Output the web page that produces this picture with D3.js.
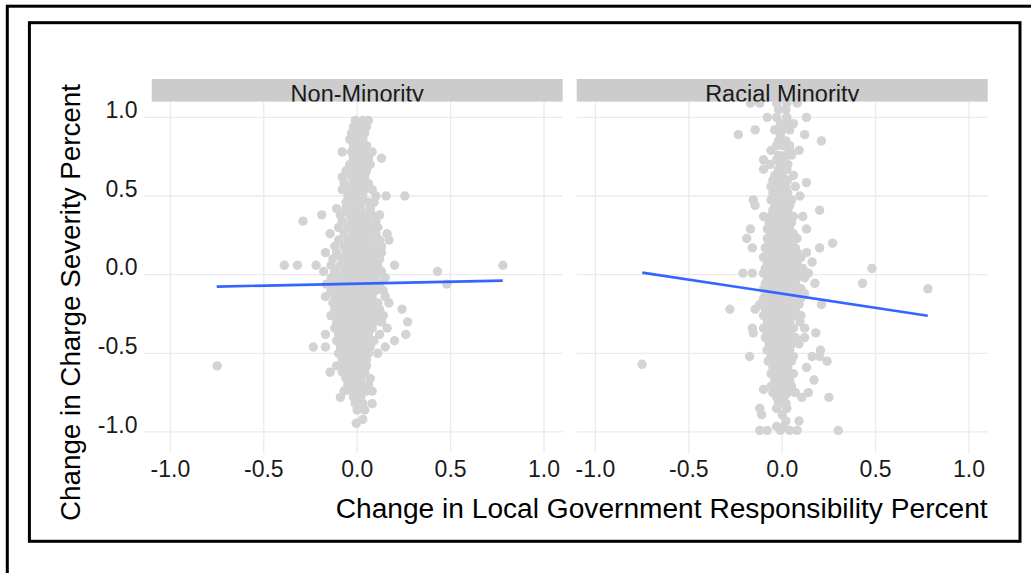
<!DOCTYPE html>
<html>
<head>
<meta charset="utf-8">
<script src="https://cdn.jsdelivr.net/npm/d3@7/dist/d3.min.js"></script>
<style>
  html, body { margin: 0; padding: 0; background: #ffffff; }
  svg { display: block; }
  text { font-family: "Liberation Sans", Arial, sans-serif; }
</style>
</head>
<body>
<script>
// ---------------- DATA ----------------
const panels = ["Non-Minority", "Racial Minority"];
const tickValues = [-1.0, -0.5, 0.0, 0.5, 1.0];
const tickLabels = ["-1.0", "-0.5", "0.0", "0.5", "1.0"];
const xTitle = "Change in Local Government Responsibility Percent";
const yTitle = "Change in Charge Severity Percent";

// Points, as rows: [y, [x values at that y]]
const nonMinorityRows = [
  [0.98, [-0.01, 0.03, 0.06]],
  [0.94, [-0.02, 0.02, 0.05]],
  [0.90, [-0.03, 0.01, 0.04]],
  [0.86, [-0.04, 0.0, 0.03]],
  [0.82, [-0.02, 0.02, 0.05]],
  [0.78, [-0.08, -0.03, 0.01, 0.04, 0.08]],
  [0.74, [-0.02, 0.02, 0.06, 0.13]],
  [0.70, [-0.04, 0.0, 0.03, 0.07]],
  [0.66, [-0.06, -0.02, 0.02, 0.05]],
  [0.62, [-0.08, -0.03, 0.01, 0.04]],
  [0.58, [-0.07, -0.02, 0.02, 0.06]],
  [0.54, [-0.08, -0.04, 0.0, 0.04, 0.08]],
  [0.50, [-0.05, -0.01, 0.03, 0.10, 0.155, 0.255]],
  [0.46, [-0.06, -0.02, 0.02, 0.06, 0.09]],
  [0.42, [-0.11, -0.06, -0.02, 0.02, 0.07]],
  [0.38, [-0.19, -0.09, -0.04, 0.0, 0.04, 0.08, 0.12]],
  [0.34, [-0.29, -0.08, -0.03, 0.01, 0.05, 0.10]],
  [0.30, [-0.10, -0.05, -0.01, 0.03, 0.07, 0.11]],
  [0.26, [-0.145, -0.07, -0.02, 0.02, 0.06, 0.10, 0.16]],
  [0.22, [-0.10, -0.05, -0.01, 0.03, 0.07, 0.12, 0.17]],
  [0.18, [-0.12, -0.07, -0.03, 0.01, 0.05, 0.09, 0.13]],
  [0.14, [-0.17, -0.11, -0.06, -0.02, 0.02, 0.06, 0.10, 0.13]],
  [0.10, [-0.13, -0.08, -0.04, 0.0, 0.04, 0.08, 0.12]],
  [0.06, [-0.39, -0.32, -0.22, -0.14, -0.09, -0.05, -0.01, 0.03, 0.07, 0.11, 0.20, 0.78]],
  [0.02, [-0.18, -0.12, -0.07, -0.03, 0.01, 0.05, 0.09, 0.13, 0.43]],
  [-0.02, [-0.14, -0.10, -0.06, -0.02, 0.02, 0.06, 0.10, 0.15]],
  [-0.06, [-0.165, -0.12, -0.08, -0.04, 0.0, 0.04, 0.08, 0.12, 0.48]],
  [-0.10, [-0.14, -0.10, -0.06, -0.02, 0.02, 0.06, 0.10, 0.14]],
  [-0.14, [-0.17, -0.12, -0.08, -0.04, 0.0, 0.04, 0.08, 0.15]],
  [-0.18, [-0.13, -0.09, -0.05, -0.01, 0.03, 0.07, 0.11, 0.17]],
  [-0.22, [-0.12, -0.08, -0.04, 0.0, 0.04, 0.08, 0.12, 0.24]],
  [-0.26, [-0.14, -0.10, -0.06, -0.02, 0.02, 0.06, 0.10, 0.14]],
  [-0.30, [-0.11, -0.07, -0.03, 0.01, 0.05, 0.09, 0.13, 0.27]],
  [-0.34, [-0.12, -0.08, -0.04, 0.0, 0.04, 0.08, 0.16]],
  [-0.38, [-0.17, -0.10, -0.06, -0.02, 0.02, 0.06, 0.12, 0.26]],
  [-0.42, [-0.11, -0.07, -0.03, 0.01, 0.05, 0.09, 0.20]],
  [-0.46, [-0.235, -0.17, -0.09, -0.05, -0.01, 0.03, 0.07, 0.15]],
  [-0.50, [-0.10, -0.06, -0.02, 0.02, 0.06, 0.11]],
  [-0.54, [-0.08, -0.04, 0.0, 0.04, 0.05]],
  [-0.58, [-0.75, -0.11, -0.07, -0.03, 0.01, 0.05]],
  [-0.62, [-0.145, -0.08, -0.04, 0.0, 0.04]],
  [-0.66, [-0.06, -0.02, 0.02, 0.07]],
  [-0.70, [-0.05, -0.01, 0.03, 0.06]],
  [-0.74, [-0.07, -0.03, 0.01, 0.05, 0.08]],
  [-0.78, [-0.09, -0.02, 0.02]],
  [-0.82, [-0.01, 0.03, 0.08]],
  [-0.86, [0.0, 0.04]],
  [-0.92, [0.03]],
  [-0.945, [-0.005]]
];

const racialMinorityRows = [
  [1.09, [-0.17, -0.12, -0.03, 0.025, 0.08]],
  [1.05, [-0.02, 0.02]],
  [1.00, [-0.08, -0.03, 0.025, 0.13]],
  [0.96, [-0.01, 0.03, 0.06]],
  [0.92, [-0.145, -0.04, 0.0, 0.04]],
  [0.89, [-0.235, -0.01, 0.12]],
  [0.85, [-0.02, 0.02, 0.21]],
  [0.82, [-0.03, 0.005, 0.04]],
  [0.79, [-0.06, 0.04, 0.09]],
  [0.76, [-0.02, 0.02, 0.05]],
  [0.73, [-0.10, -0.03, 0.01]],
  [0.70, [-0.065, -0.01, 0.03]],
  [0.67, [-0.10, -0.02, 0.025]],
  [0.63, [-0.04, 0.0, 0.06]],
  [0.60, [-0.05, -0.01, 0.03]],
  [0.585, [0.13]],
  [0.56, [-0.06, -0.02, 0.02, 0.07]],
  [0.52, [-0.05, -0.01, 0.03]],
  [0.50, [0.095]],
  [0.475, [-0.155, -0.06, -0.02, 0.02, 0.05]],
  [0.44, [-0.145, -0.04, 0.0, 0.04]],
  [0.41, [-0.05, -0.01, 0.03, 0.20]],
  [0.37, [-0.10, -0.06, -0.02, 0.02, 0.06, 0.11]],
  [0.33, [-0.07, -0.03, 0.01, 0.05]],
  [0.29, [-0.17, -0.08, -0.04, 0.0, 0.04, 0.13]],
  [0.26, [-0.06, -0.02, 0.02, 0.06]],
  [0.23, [-0.19, -0.08, -0.04, 0.0, 0.04, 0.08]],
  [0.20, [-0.07, -0.03, 0.01, 0.05, 0.27]],
  [0.17, [-0.16, -0.09, -0.05, -0.01, 0.03, 0.07, 0.20]],
  [0.14, [-0.08, -0.04, 0.0, 0.04, 0.08, 0.13]],
  [0.11, [-0.10, -0.06, -0.02, 0.02, 0.06, 0.10]],
  [0.08, [-0.08, -0.04, 0.0, 0.04, 0.08, 0.16]],
  [0.04, [-0.09, -0.05, -0.01, 0.03, 0.07, 0.11, 0.48]],
  [0.01, [-0.21, -0.16, -0.10, -0.06, -0.02, 0.02, 0.06, 0.10, 0.14]],
  [-0.02, [-0.08, -0.04, 0.0, 0.04, 0.08, 0.12]],
  [-0.055, [-0.09, -0.05, -0.01, 0.03, 0.07, 0.175, 0.43]],
  [-0.09, [-0.10, -0.06, -0.02, 0.02, 0.06, 0.10, 0.78]],
  [-0.12, [-0.08, -0.04, 0.0, 0.04, 0.08, 0.12]],
  [-0.15, [-0.10, -0.06, -0.02, 0.02, 0.06, 0.10]],
  [-0.19, [-0.12, -0.07, -0.03, 0.01, 0.05, 0.09, 0.21]],
  [-0.22, [-0.28, -0.145, -0.09, -0.05, -0.01, 0.03, 0.07]],
  [-0.26, [-0.10, -0.06, -0.02, 0.02, 0.06, 0.10]],
  [-0.30, [-0.08, -0.04, 0.0, 0.04, 0.095]],
  [-0.34, [-0.16, -0.10, -0.06, -0.02, 0.02, 0.06, 0.12]],
  [-0.37, [-0.155, -0.08, -0.04, 0.0, 0.04, 0.18]],
  [-0.40, [-0.09, -0.05, -0.01, 0.03, 0.07, 0.12]],
  [-0.44, [-0.07, -0.03, 0.01, 0.05, 0.09]],
  [-0.48, [-0.08, -0.04, 0.0, 0.04, 0.205]],
  [-0.52, [-0.175, -0.06, -0.02, 0.02, 0.06, 0.16, 0.20]],
  [-0.55, [-0.075, -0.03, 0.01, 0.05, 0.24]],
  [-0.57, [-0.75]],
  [-0.59, [-0.05, -0.01, 0.03, 0.13]],
  [-0.63, [-0.06, -0.02, 0.02, 0.06]],
  [-0.67, [-0.04, 0.0, 0.04, 0.17]],
  [-0.71, [-0.06, -0.02, 0.02, 0.05]],
  [-0.73, [-0.10]],
  [-0.75, [-0.05, -0.01, 0.03, 0.07, 0.14]],
  [-0.78, [-0.03, 0.01, 0.105, 0.25]],
  [-0.82, [-0.02, 0.02]],
  [-0.85, [-0.12, -0.03, 0.025]],
  [-0.89, [-0.11, 0.0]],
  [-0.93, [0.02, 0.09]],
  [-0.965, [-0.03, 0.01]],
  [-0.99, [-0.12, -0.08, -0.01, 0.04, 0.08, 0.30]]
];

// Fitted lines (endpoints)
const nonMinorityFit = [[-0.752, -0.076], [0.779, -0.038]];
const racialMinorityFit = [[-0.749, 0.013], [0.779, -0.261]];

// ---------------- DRAW ----------------
const W = 1031, H = 573;
const svg = d3.select("body").append("svg").attr("width", W).attr("height", H);
svg.append("rect").attr("width", W).attr("height", H).attr("fill", "#fff");

const panelX = [[151.7, 562.7], [576.7, 987.7]];
const panelTop = 101.6, panelBottom = 447.7, stripTop = 79;
const y = d3.scaleLinear().domain([-1.1, 1.1]).range([panelBottom, panelTop]);

const rowsByPanel = [nonMinorityRows, racialMinorityRows];
const fitByPanel = [nonMinorityFit, racialMinorityFit];
const gridColor = "#ebebeb";

const defs = svg.append("defs");

panels.forEach((name, i) => {
  const [x0, x1] = panelX[i];
  const x = d3.scaleLinear().domain([-1.1, 1.1]).range([x0, x1]);
  const g = svg.append("g");

  // gridlines
  g.selectAll(".gy").data(tickValues).join("line")
    .attr("x1", i === 0 ? x0 - 7.4 : x0).attr("x2", x1)
    .attr("y1", d => y(d)).attr("y2", d => y(d))
    .attr("stroke", gridColor).attr("stroke-width", 1.3);
  g.selectAll(".gx").data(tickValues).join("line")
    .attr("x1", d => x(d)).attr("x2", d => x(d))
    .attr("y1", panelTop).attr("y2", panelBottom + 5.5)
    .attr("stroke", gridColor).attr("stroke-width", 1.3);

  // points
  const pts = rowsByPanel[i].flatMap(([yy, xs]) => xs.map(xx => [xx, yy]));
  defs.append("clipPath").attr("id", "pc" + i).append("rect")
    .attr("x", x0).attr("y", panelTop).attr("width", x1 - x0).attr("height", panelBottom - panelTop);
  g.append("g").attr("clip-path", `url(#pc${i})`)
    .selectAll("circle").data(pts).join("circle")
    .attr("cx", d => x(d[0])).attr("cy", d => y(d[1])).attr("r", 4.7)
    .attr("fill", "#d3d3d3");

  // fit line
  g.append("path").datum(fitByPanel[i])
    .attr("d", d3.line().x(d => x(d[0])).y(d => y(d[1])))
    .attr("fill", "none").attr("stroke", "#3366FF").attr("stroke-width", 2.6);

  // strip
  defs.append("clipPath").attr("id", "sc" + i).append("rect")
    .attr("x", x0).attr("y", stripTop).attr("width", x1 - x0).attr("height", panelTop - stripTop);
  g.append("rect").attr("x", x0).attr("y", stripTop).attr("width", x1 - x0)
    .attr("height", panelTop - stripTop).attr("fill", "#cccccc");
  g.append("text").attr("clip-path", `url(#sc${i})`)
    .attr("x", (x0 + x1) / 2).attr("y", 101.6).attr("text-anchor", "middle")
    .attr("font-size", 23.5).attr("fill", "#1a1a1a").text(name);

  // x tick labels
  g.selectAll(".xl").data(tickValues).join("text")
    .attr("x", d => x(d)).attr("y", 476.5).attr("text-anchor", "middle")
    .attr("font-size", 23).attr("fill", "#1a1a1a")
    .text((d, k) => tickLabels[k]);

  // y tick labels (first panel only)
  if (i === 0) {
    g.selectAll(".yl").data(tickValues).join("text")
      .attr("x", 137.5).attr("y", d => y(d) + 0.8).attr("text-anchor", "end")
      .attr("font-size", 23).attr("fill", "#1a1a1a")
      .text((d, k) => tickLabels[k]);
  }
});

// axis titles
svg.append("text").attr("x", 987.7).attr("y", 518).attr("text-anchor", "end")
  .attr("font-size", 27).attr("fill", "#000")
  .attr("textLength", 652).attr("lengthAdjust", "spacingAndGlyphs").text(xTitle);
svg.append("text").attr("transform", "translate(79.5,84) rotate(-90)")
  .attr("text-anchor", "end").attr("font-size", 27).attr("fill", "#000")
  .attr("textLength", 437).attr("lengthAdjust", "spacingAndGlyphs").text(yTitle);

// frames
svg.append("rect").attr("x", 7.3).attr("y", 6.2).attr("width", 1200).attr("height", 1000)
  .attr("fill", "none").attr("stroke", "#000").attr("stroke-width", 3);
svg.append("rect").attr("x", 29.4).attr("y", 22.7).attr("width", 990.6).attr("height", 518.6)
  .attr("fill", "none").attr("stroke", "#000").attr("stroke-width", 3);
</script>
</body>
</html>
